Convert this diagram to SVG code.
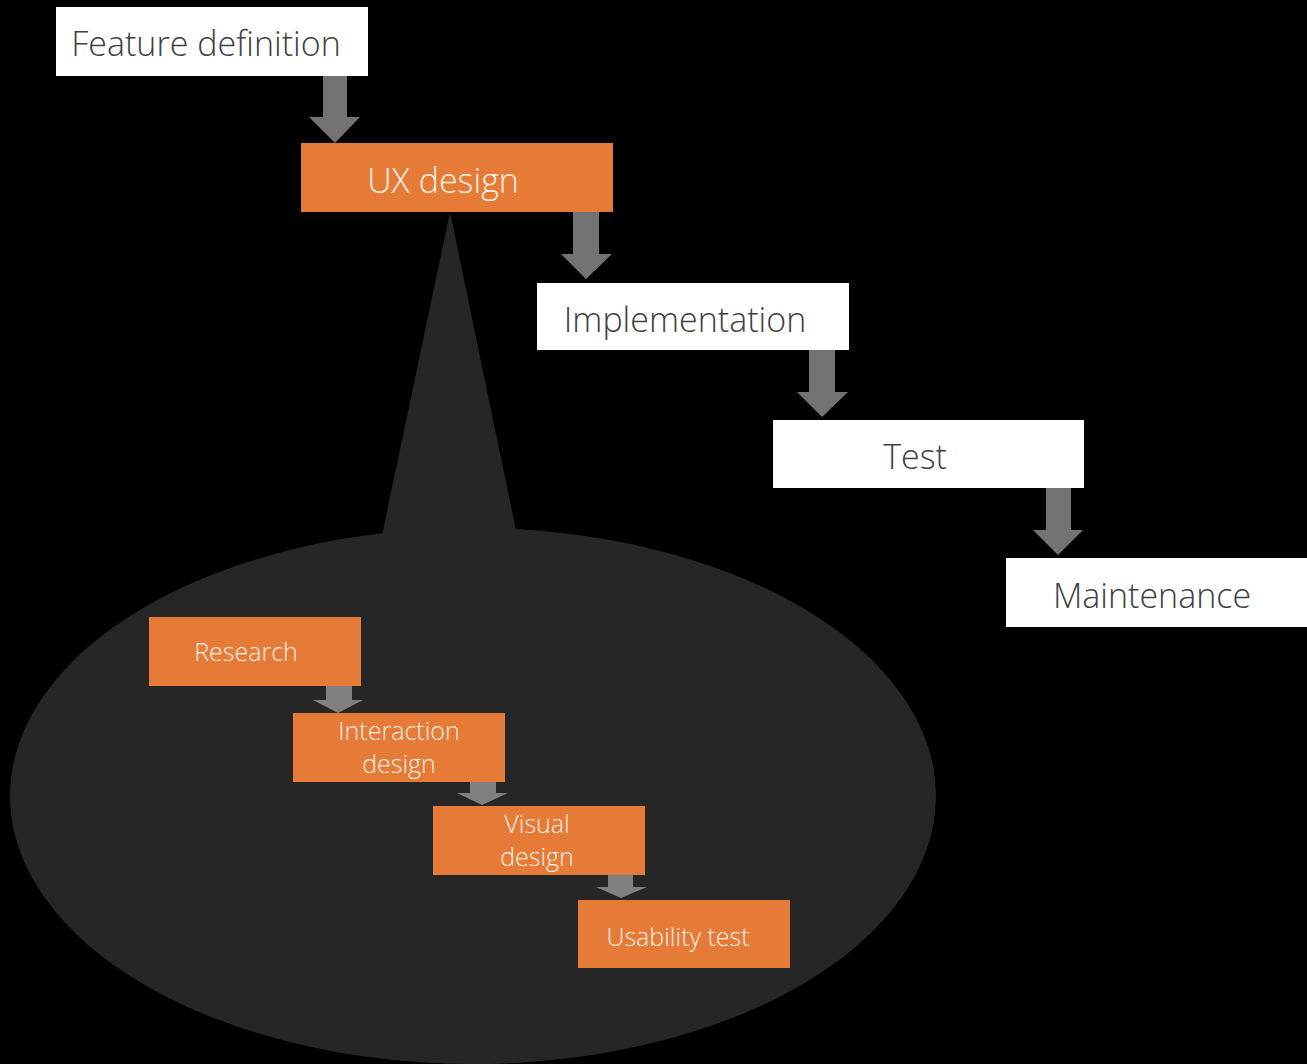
<svg xmlns="http://www.w3.org/2000/svg" width="1307" height="1064" viewBox="0 0 1307 1064">
  <defs>
    <style>
      .bg { fill: #000000; }
      .stage { fill: #ffffff; }
      .ux { fill: #e67a37; }
      .bubble { fill: #262626; }
      .arrow-main { fill: #737373; }
      .arrow-sub { fill: #808080; }
      .t-dark { font-family: "Open Sans", "Noto Sans", "Liberation Sans", sans-serif; font-weight: 300; fill: #404040; text-anchor: middle; }
      .t-light { font-family: "Open Sans", "Noto Sans", "Liberation Sans", sans-serif; font-weight: 300; fill: #fdf1e8; text-anchor: middle; }
      .big { font-size: 34px; }
      .small { font-size: 25px; }
    </style>
    <filter id="soft" x="-30%" y="-30%" width="160%" height="160%">
      <feDropShadow dx="0" dy="0" stdDeviation="2" flood-color="#ffffff" flood-opacity="0.25"/>
    </filter>
  </defs>

  <rect class="bg" x="0" y="0" width="1307" height="1064"/>

  <!-- callout bubble expanding the UX design phase -->
  <g id="ux-callout">
    <polygon class="bubble" points="450,212 381,540 518,540"/>
    <ellipse class="bubble" cx="473" cy="796" rx="463" ry="268"/>
  </g>

  <!-- connectors: block arrows between phases -->
  <g id="connectors">
    <polygon class="arrow-main" points="323,76 347,76 347,117 360,117 335,143 309,117 323,117"/>
    <polygon class="arrow-main" points="573,212 599,212 599,254 612,254 586,279 561,254 573,254"/>
    <polygon class="arrow-main" points="809,350 835,350 835,392 848,392 822,417 797,392 809,392"/>
    <polygon class="arrow-main" points="1046,488 1071,488 1071,530 1083,530 1058,555 1033,530 1046,530"/>

    <polygon class="arrow-sub" points="326,686 352,686 352,700 363,700 338,713 313,700 326,700"/>
    <polygon class="arrow-sub" points="470,782 496,782 496,793 508,793 482,805 457,793 470,793"/>
    <polygon class="arrow-sub" points="608,875 633,875 633,887 647,887 621,898 596,887 608,887"/>
  </g>

  <!-- top-level phases -->
  <g id="feature-definition">
    <rect class="stage" x="56" y="7" width="312" height="69"/>
    <text class="t-dark big" x="206" y="56">Feature definition</text>
  </g>
  <g id="ux-design">
    <rect class="ux" x="301" y="143" width="312" height="69"/>
    <text class="t-light big" x="443" y="193">UX design</text>
  </g>
  <g id="implementation">
    <rect class="stage" x="537" y="283" width="312" height="67"/>
    <text class="t-dark big" x="685" y="332">Implementation</text>
  </g>
  <g id="test">
    <rect class="stage" x="773" y="420" width="311" height="68"/>
    <text class="t-dark big" x="915" y="469">Test</text>
  </g>
  <g id="maintenance">
    <rect class="stage" x="1006" y="558" width="312" height="69"/>
    <text class="t-dark big" x="1152" y="608">Maintenance</text>
  </g>

  <!-- UX design sub-steps -->
  <g id="research">
    <rect class="ux" x="149" y="617" width="212" height="69"/>
    <text class="t-light small" x="246" y="661">Research</text>
  </g>
  <g id="interaction-design">
    <rect class="ux" x="293" y="713" width="212" height="69"/>
    <text class="t-light small" x="399" y="740">Interaction</text>
    <text class="t-light small" x="399" y="773">design</text>
  </g>
  <g id="visual-design">
    <rect class="ux" x="433" y="806" width="212" height="69"/>
    <text class="t-light small" x="537" y="833">Visual</text>
    <text class="t-light small" x="537" y="866">design</text>
  </g>
  <g id="usability-test">
    <rect class="ux" x="578" y="900" width="212" height="68"/>
    <text class="t-light small" x="678" y="946">Usability test</text>
  </g>
</svg>
